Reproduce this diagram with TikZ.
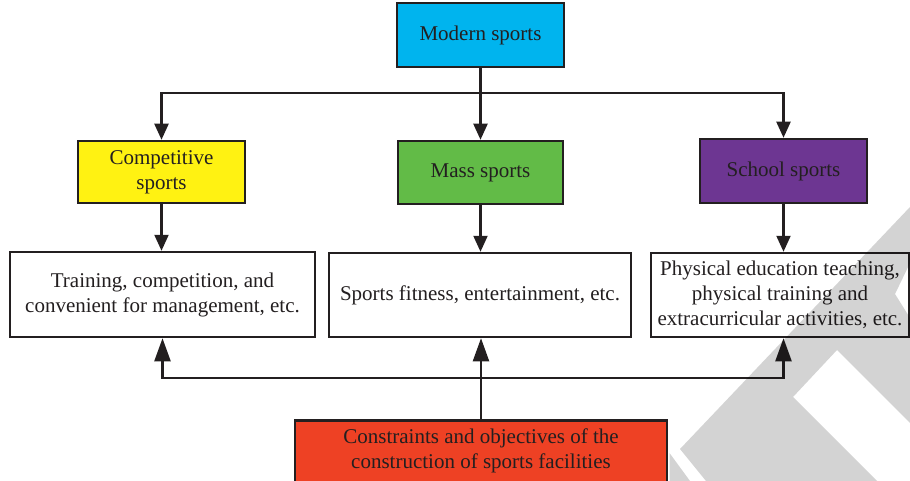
\documentclass[tikz,border=0pt]{standalone}
\usepackage{fontspec}
\setmainfont{Liberation Serif}
\usetikzlibrary{arrows.meta}
\definecolor{ink}{HTML}{231F20}
\definecolor{cyanbox}{HTML}{00B4EE}
\definecolor{yellowbox}{HTML}{FFF212}
\definecolor{greenbox}{HTML}{62BB47}
\definecolor{purplebox}{HTML}{6D3692}
\definecolor{redbox}{HTML}{EE4124}
\definecolor{wm}{HTML}{D3D3D3}
\begin{document}
\begin{tikzpicture}[x=1pt,y=-1pt,
  box/.style={draw=ink, line width=2.5pt, inner sep=0pt, align=center, text=ink,
    font=\fontsize{21}{25}\selectfont},
  conn/.style={draw=ink, line width=2.2pt},
  downarr/.style={conn, -{Triangle[length=16pt,width=14pt]}},
  uparr/.style={conn, -{Triangle[length=23pt,width=16pt]}},
  boxtext/.style={text=ink, inner sep=0pt, align=center, font=\fontsize{21}{25}\selectfont},
  wmark/.style={fill=wm, blend mode=multiply}
]
\useasboundingbox (0,0) rectangle (910,481);

\node[box, fill=cyanbox, minimum width=167pt, minimum height=64pt] (modern) at (480.5,35) {Modern sports};
\node[box, fill=yellowbox, minimum width=167pt, minimum height=62pt] (comp) at (161.5,172) {Competitive\\sports};
\node[box, fill=greenbox, minimum width=165pt, minimum height=63pt] (mass) at (480.5,172.5) {Mass sports};
\node[box, fill=purplebox, minimum width=167pt, minimum height=64pt] (school) at (783.5,171) {School sports};

\node[box, fill=white, minimum width=305pt, minimum height=85pt] (train) at (162.5,294.5) {Training, competition, and\\convenient for management, etc.};
\node[box, fill=white, minimum width=302pt, minimum height=84pt] (fit) at (480,295) {Sports fitness, entertainment, etc.};
\node[box, fill=white, minimum width=258pt, minimum height=84pt] (phys) at (780,295) {Physical education teaching,\\physical training and\\extracurricular activities, etc.};

\node[box, fill=redbox, minimum width=372pt, minimum height=100pt, anchor=north] (red) at (481,419) {};
\node[boxtext] (redtext) at (481,450.5) {Constraints and objectives of the\\construction of sports facilities};

% top connectors
\coordinate (jn) at (480.5,93);
\draw[conn] (modern.south) -- (jn);
\draw[downarr] (jn) -| (comp.north);
\draw[downarr] (jn) -| (school.north);
\draw[downarr] (jn) -- (mass.north);

\draw[downarr] (comp.south) -- (comp.south |- train.north);
\draw[downarr] (mass.south) -- (mass.south |- fit.north);
\draw[downarr] (school.south) -- (school.south |- phys.north);

% bottom connectors
\coordinate (bj) at (481,378);
\draw[uparr] (red.north) -- (red.north |- fit.south);
\draw[uparr] (bj) -| (train.south);
\draw[uparr] (bj) -| (school.south |- phys.south);

% watermark
\fill[wmark] (680,449) -- (910,207) -- (910,263) -- (895,294) -- (910,318) -- (910,423)
  -- (837,350) -- (793,397) -- (877,481) -- (706,481) -- cycle;
\fill[wmark] (669.5,453) -- (690,481) -- (669.5,481) -- cycle;
\end{tikzpicture}
\end{document}
